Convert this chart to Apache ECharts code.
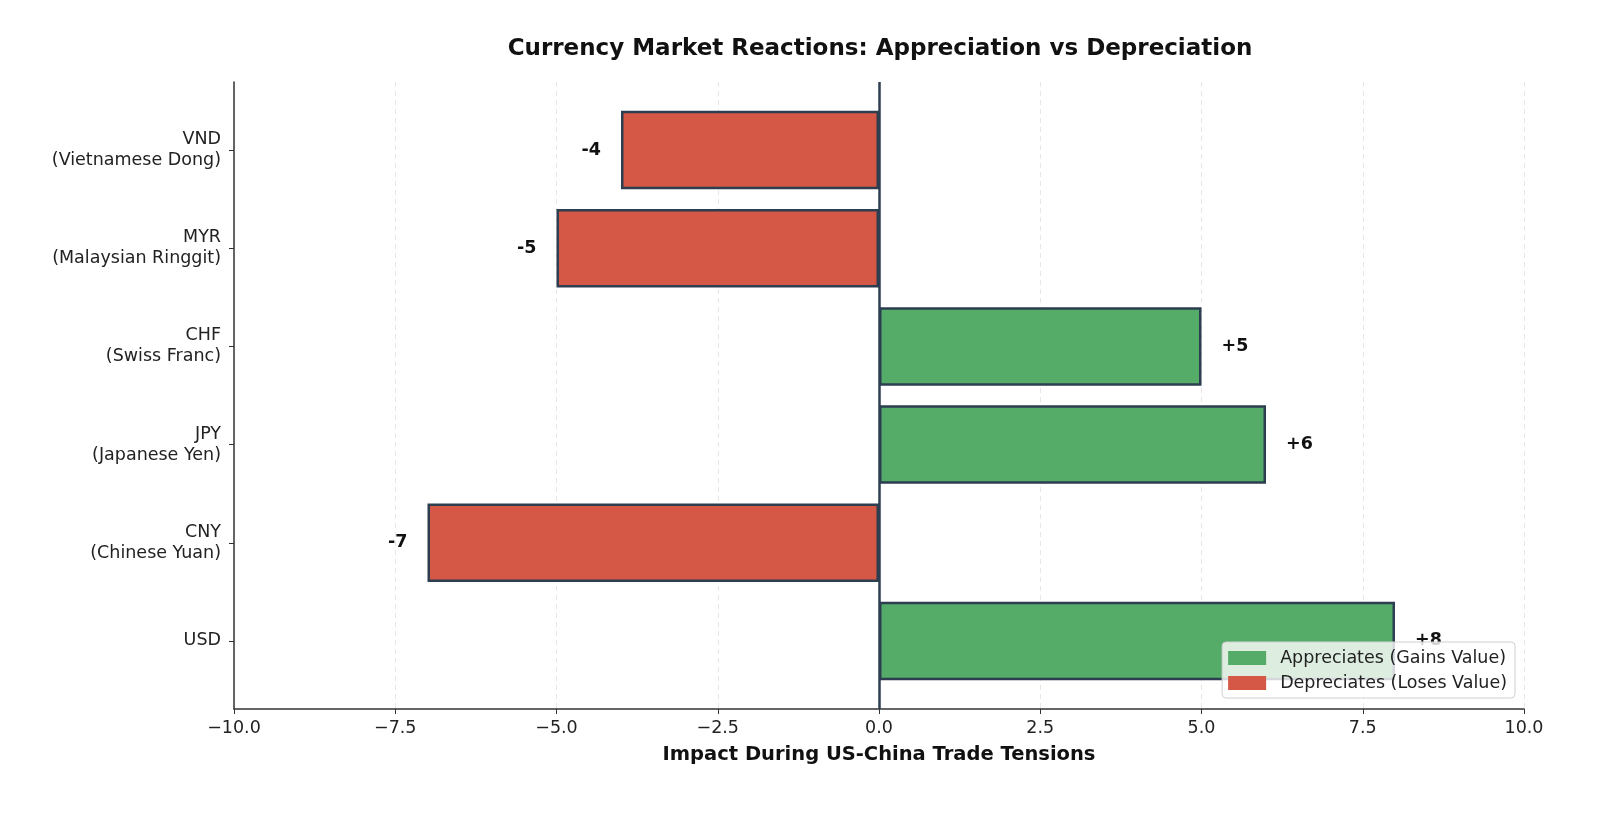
<!DOCTYPE html>
<html>
<head>
<meta charset="utf-8">
<script src="https://cdn.jsdelivr.net/npm/echarts@6/dist/echarts.min.js"></script>
<style>
  html, body { margin: 0; padding: 0; background: #fff; }
  #main { width: 1598px; height: 819px; }
</style>
</head>
<body>
<div id="main"></div>
<script>
// currencies, bottom to top
let categories = [
    'USD',
    'CNY\n(Chinese Yuan)',
    'JPY\n(Japanese Yen)',
    'CHF\n(Swiss Franc)',
    'MYR\n(Malaysian Ringgit)',
    'VND\n(Vietnamese Dong)'
];
let impact = [8, -7, 6, 5, -5, -4];

let gainData = impact.map(v => v > 0 ? v : '-');
let lossData = impact.map(v => v < 0 ? v : '-');

let font = 'DejaVu Sans';
let edge = '#2c3e50';
let minus = s => String(s).replace('-', '\u2212');

let chartDom = document.getElementById('main');
let myChart = echarts.init(chartDom);

let barLabel = (pos) => ({
    show: true,
    position: pos,
    distance: 20,
    fontFamily: font,
    fontSize: 17.5,
    fontWeight: 'bold',
    color: '#111',
    formatter: p => (p.value > 0 ? '+' : '') + p.value
});

let option = {
    animation: false,
    textStyle: { fontFamily: font },
    title: {
        text: 'Currency Market Reactions: Appreciation vs Depreciation',
        left: 875,
        top: 33,
        textAlign: 'center',
        textStyle: { fontFamily: font, fontSize: 23, fontWeight: 'bold', color: '#111' }
    },
    legend: {
        data: ['Appreciates (Gains Value)', 'Depreciates (Loses Value)'],
        orient: 'vertical',
        right: 83,
        bottom: 121,
        padding: [7, 8, 6, 6],
        itemGap: 7,
        itemWidth: 38,
        itemHeight: 14,
        icon: 'rect',
        itemStyle: { borderWidth: 0 },
        backgroundColor: 'rgba(255,255,255,0.8)',
        borderColor: '#d0d0d0',
        borderWidth: 1,
        borderRadius: 4,
        textStyle: { fontFamily: font, fontSize: 17.5, color: '#222', padding: [0, 0, 0, 9] }
    },
    grid: [
        // bars grid (matplotlib-like margins)
        { left: 234, right: 74, top: 101, bottom: 129 },
        // full axes frame
        { left: 234, right: 74, top: 82, bottom: 110 }
    ],
    xAxis: [
        { gridIndex: 0, type: 'value', min: -10, max: 10, interval: 2.5, show: false },
        {
            gridIndex: 1, type: 'value', min: -10, max: 10, interval: 2.5,
            name: 'Impact During US-China Trade Tensions',
            nameLocation: 'middle',
            nameGap: 36,
            nameTextStyle: { fontFamily: font, fontSize: 19.5, fontWeight: 'bold', color: '#111' },
            axisLine: { show: true, onZero: false, lineStyle: { color: '#333', width: 1.5 } },
            axisTick: { show: true, length: 5, lineStyle: { color: '#333' } },
            axisLabel: {
                fontFamily: font, fontSize: 17.5, color: '#222', margin: 10,
                formatter: v => minus(v.toFixed(1))
            },
            splitLine: { show: true, lineStyle: { color: '#e6e6e6', type: [5, 4], width: 1 } }
        }
    ],
    yAxis: [
        {
            gridIndex: 0, type: 'category', data: categories,
            axisLine: { show: false, onZero: false },
            axisTick: { show: true, alignWithLabel: true, length: 5, lineStyle: { color: '#333' } },
            axisLabel: {
                fontFamily: font, fontSize: 17.5, color: '#222', margin: 13,
                align: 'right', lineHeight: 21
            },
            splitLine: { show: false }
        },
        {
            gridIndex: 1, type: 'value', min: 0, max: 1,
            axisLine: { show: true, onZero: false, lineStyle: { color: '#333', width: 1.5 } },
            axisTick: { show: false },
            axisLabel: { show: false },
            splitLine: { show: false }
        }
    ],
    series: [
        {
            name: 'Appreciates (Gains Value)',
            type: 'bar',
            xAxisIndex: 0, yAxisIndex: 0,
            data: gainData,
            barWidth: '80%',
            barGap: '-100%',
            itemStyle: { color: '#55ab68', borderColor: edge, borderWidth: 2.5 },
            label: barLabel('right'),
            z: 3
        },
        {
            name: 'Depreciates (Loses Value)',
            type: 'bar',
            xAxisIndex: 0, yAxisIndex: 0,
            data: lossData,
            barWidth: '80%',
            barGap: '-100%',
            itemStyle: { color: '#d55745', borderColor: edge, borderWidth: 2.5 },
            label: barLabel('left'),
            z: 3
        },
        {
            name: 'zero',
            type: 'line',
            xAxisIndex: 1, yAxisIndex: 1,
            data: [],
            silent: true,
            z: 4,
            markLine: {
                silent: true,
                symbol: 'none',
                label: { show: false },
                lineStyle: { color: edge, width: 2.5, type: 'solid' },
                data: [{ xAxis: 0 }]
            }
        }
    ]
};

option && myChart.setOption(option);
</script>
</body>
</html>
